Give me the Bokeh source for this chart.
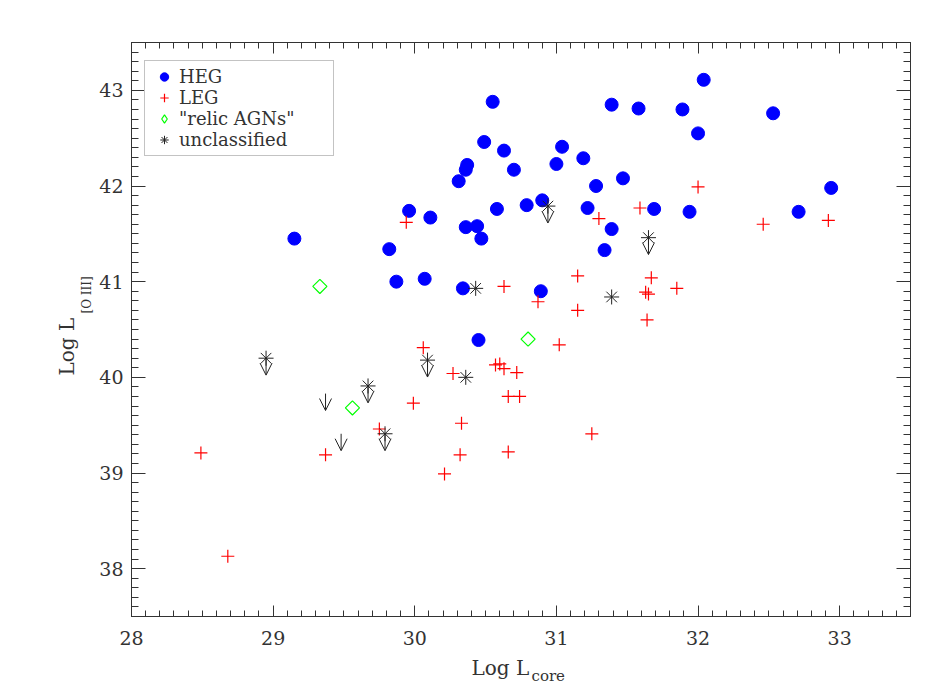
import math
from bokeh.plotting import figure
from bokeh.models import (Range1d, LinearAxis, SingleIntervalTicker, Title,
                          Arrow, OpenHead, ColumnDataSource, CustomJSTickFormatter,
                          LegendItem, Legend)
from bokeh.embed import file_html
from bokeh.resources import INLINE

# ---------------- data ----------------
heg_x = [29.15, 29.82, 29.87, 29.96, 30.07, 30.11, 30.31, 30.34, 30.36, 30.37,
         30.36, 30.44, 30.45, 30.47, 30.49, 30.55, 30.58, 30.63, 30.70, 30.79,
         30.89, 30.90, 31.00, 31.04, 31.19, 31.22, 31.28, 31.34, 31.39, 31.39,
         31.47, 31.58, 31.69, 31.89, 31.94, 32.00, 32.04, 32.53, 32.71, 32.94]
heg_y = [41.45, 41.34, 41.00, 41.74, 41.03, 41.67, 42.05, 40.93, 42.17, 42.22,
         41.57, 41.58, 40.39, 41.45, 42.46, 42.88, 41.76, 42.37, 42.17, 41.80,
         40.90, 41.85, 42.23, 42.41, 42.29, 41.77, 42.00, 41.33, 41.55, 42.85,
         42.08, 42.81, 41.76, 42.80, 41.73, 42.55, 43.11, 42.76, 41.73, 41.98]

leg_x = [28.49, 28.68, 29.37, 29.75, 29.94, 29.99, 30.06, 30.21, 30.27, 30.32,
         30.33, 30.57, 30.60, 30.63, 30.63, 30.66, 30.66, 30.72, 30.74, 30.87,
         31.02, 31.15, 31.15, 31.25, 31.30, 31.59, 31.63, 31.65, 31.64, 31.67,
         31.85, 32.00, 32.46, 32.92]
leg_y = [39.21, 38.13, 39.19, 39.46, 41.62, 39.73, 40.31, 38.99, 40.04, 39.19,
         39.52, 40.13, 40.14, 40.09, 40.95, 39.80, 39.22, 40.05, 39.80, 40.79,
         40.34, 41.06, 40.70, 39.41, 41.66, 41.77, 40.89, 40.87, 40.60, 41.04,
         40.93, 41.99, 41.60, 41.64]

relic_x = [29.33, 29.56, 30.80]
relic_y = [40.95, 39.68, 40.40]

# unclassified detections (asterisks)
unc_x = [28.95, 29.67, 29.79, 30.09, 30.94, 31.65, 30.43, 30.36, 31.39]
unc_y = [40.20, 39.91, 39.41, 40.18, 41.79, 41.46, 40.93, 40.00, 40.84]
# which of them are upper limits (asterisk + arrow)
unc_ul_x = [28.95, 29.67, 29.79, 30.09, 30.94, 31.65]
unc_ul_y = [40.20, 39.91, 39.41, 40.18, 41.79, 41.46]
# bare upper-limit arrows
ul_x = [29.37, 29.48]
ul_y = [39.83, 39.41]

x_start, x_end = 28.0, 33.5
y_start, y_end = 37.5, 43.5

# ---------------- style ----------------
FONT = "DejaVu Serif"
INK = "#333333"
ARROW_LEN = 0.177  # length of the upper-limit arrows in data units

FL, FT, FW, FH = 131, 42, 779, 574  # frame placement on the page
p = figure(width=940, height=692,
           x_range=Range1d(x_start, x_end), y_range=Range1d(y_start, y_end),
           output_backend="svg", toolbar_location=None,
           min_border_left=FL, min_border_right=940 - FL - FW,
           min_border_top=FT, min_border_bottom=692 - FT - FH)
p.xgrid.visible = False
p.ygrid.visible = False
p.outline_line_color = INK
p.outline_line_width = 1
p.background_fill_color = "white"
p.border_fill_color = "white"


def style_axis(ax, major_in, minor_in, labels, standoff=8):
    ax.ticker = SingleIntervalTicker(interval=1, num_minor_ticks=10)
    ax.axis_line_color = INK
    ax.major_tick_line_color = INK
    ax.minor_tick_line_color = INK
    ax.major_tick_in = major_in
    ax.major_tick_out = 0
    ax.minor_tick_in = minor_in
    ax.minor_tick_out = 0
    ax.major_label_text_font = FONT
    ax.major_label_text_color = INK
    ax.major_label_standoff = standoff
    ax.major_label_text_font_size = "19px"
    if not labels:
        ax.formatter = CustomJSTickFormatter(code="return ''")


style_axis(p.xaxis[0], 11, 6, True, standoff=14)
style_axis(p.yaxis[0], 14, 7, True, standoff=8)
top_ax = LinearAxis()
right_ax = LinearAxis()
style_axis(top_ax, 11, 6, False)
style_axis(right_ax, 14, 7, False)
p.add_layout(top_ax, "above")
p.add_layout(right_ax, "right")

# ---------------- points ----------------
r_heg = p.scatter(heg_x, heg_y, marker="circle", size=13, fill_color="#0000ff",
                  line_color="#0000ff")
r_leg = p.scatter(leg_x, leg_y, marker="cross", size=13, line_color="#ff0000",
                  line_width=1.2)
r_rel = p.scatter(relic_x, relic_y, marker="square", angle=math.pi / 4, size=10,
                  fill_color=None, line_color="#00ff00", line_width=1.2)
# legend swatch for the diamonds (a single NaN point, nothing drawn)
r_rel_key = p.scatter([float("nan")], [float("nan")], marker="diamond", size=10,
                      fill_color=None, line_color="#00ff00", line_width=1.2)
r_unc = p.scatter(unc_x, unc_y, marker="asterisk", size=15, line_color="#222222",
                  line_width=1)

all_ul_x = unc_ul_x + ul_x
all_ul_y = unc_ul_y + ul_y
arrow_src = ColumnDataSource(dict(
    x=all_ul_x, y=all_ul_y, ye=[v - ARROW_LEN for v in all_ul_y]))
p.add_layout(Arrow(end=OpenHead(size=12, line_color="#222222", line_width=1),
                   x_start="x", y_start="y", x_end="x", y_end="ye",
                   source=arrow_src, line_color="#222222", line_width=1))

# ---------------- legend ----------------
lg = Legend(items=[
    LegendItem(label="HEG", renderers=[r_heg]),
    LegendItem(label="LEG", renderers=[r_leg]),
    LegendItem(label='"relic AGNs"', renderers=[r_rel_key]),
    LegendItem(label="unclassified", renderers=[r_unc]),
])
lg.location = (13, FH - 20 - 94)
lg.label_text_font = FONT
lg.label_text_font_size = "18px"
lg.label_text_color = INK
lg.label_height = 21
lg.glyph_height = 21
lg.glyph_width = 28
lg.label_standoff = 1
lg.label_width = 149
lg.spacing = 0
lg.padding = 5
lg.margin = 0
lg.border_line_color = "#888888"
lg.border_line_width = 1
lg.background_fill_alpha = 1.0
p.add_layout(lg, "center")

# ---------------- axis titles (side-panel titles) ----------------
def title(text, size, offset, standoff):
    return Title(text=text, text_font=FONT, text_font_size=size,
                 text_font_style="normal", text_color=INK, align="left",
                 vertical_align="top", offset=offset, standoff=standoff)

p.add_layout(title("Log L", "20px", 471 - FL, 16), "below")
p.add_layout(title("core", "15px", 531 - FL, -45), "below")
p.add_layout(title("[O III]", "12px", (FT + FH) - 313, 2), "left")
p.add_layout(title("Log L", "20px", (FT + FH) - 375, -47), "left")

open("out.html", "w").write(file_html(p, INLINE))
